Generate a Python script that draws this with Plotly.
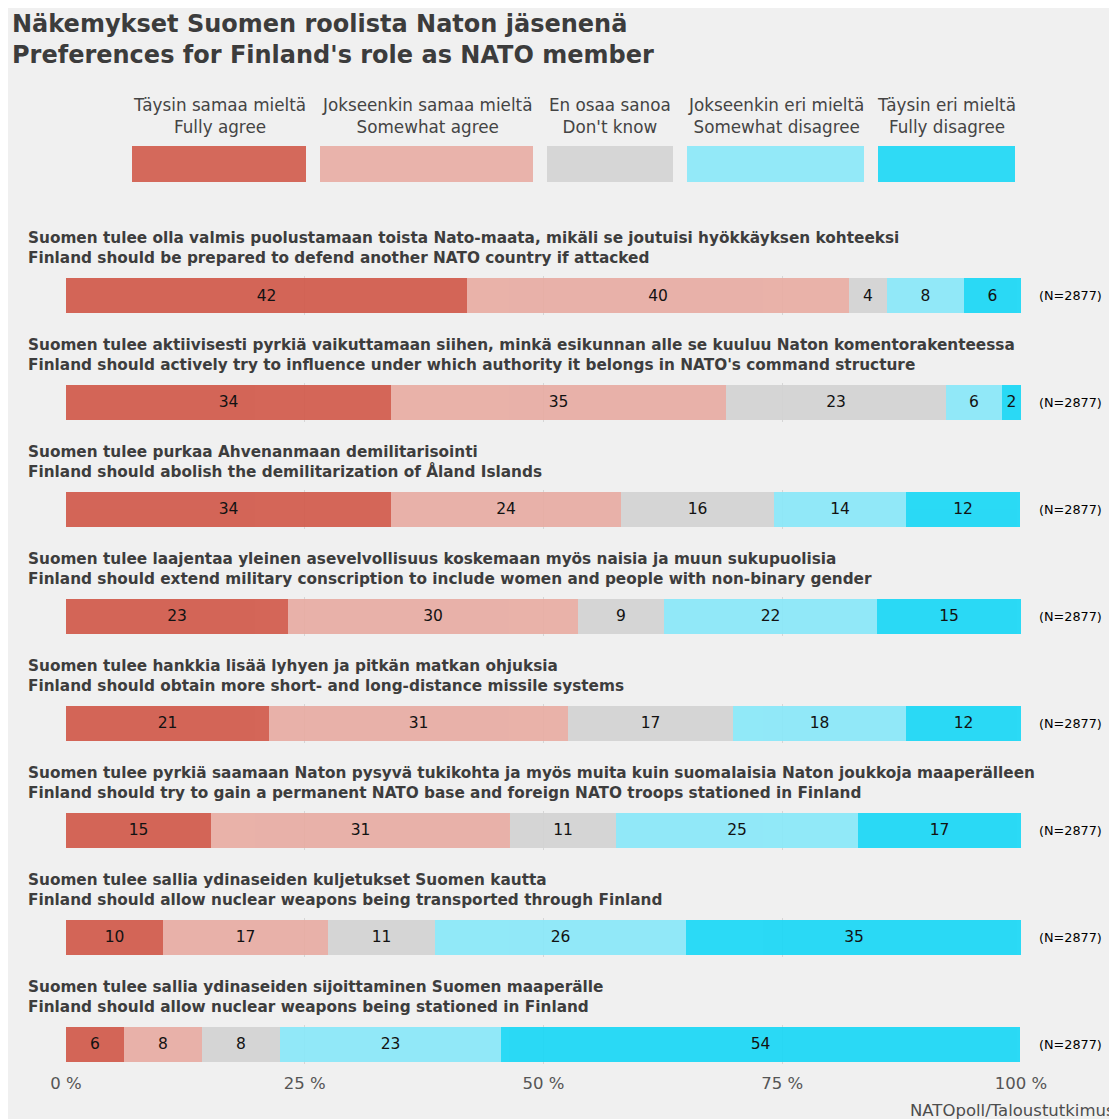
import plotly.graph_objects as go

OFF = 8           # page offset of the figure (body margin)
W, H = 1109, 1111

title_lines = ["Näkemykset Suomen roolista Naton jäsenenä",
               "Preferences for Finland's role as NATO member"]

statements_fi = [
    "Suomen tulee olla valmis puolustamaan toista Nato-maata, mikäli se joutuisi hyökkäyksen kohteeksi",
    "Suomen tulee aktiivisesti pyrkiä vaikuttamaan siihen, minkä esikunnan alle se kuuluu Naton komentorakenteessa",
    "Suomen tulee purkaa Ahvenanmaan demilitarisointi",
    "Suomen tulee laajentaa yleinen asevelvollisuus koskemaan myös naisia ja muun sukupuolisia",
    "Suomen tulee hankkia lisää lyhyen ja pitkän matkan ohjuksia",
    "Suomen tulee pyrkiä saamaan Naton pysyvä tukikohta ja myös muita kuin suomalaisia Naton joukkoja maaperälleen",
    "Suomen tulee sallia ydinaseiden kuljetukset Suomen kautta",
    "Suomen tulee sallia ydinaseiden sijoittaminen Suomen maaperälle",
]
statements_en = [
    "Finland should be prepared to defend another NATO country if attacked",
    "Finland should actively try to influence under which authority it belongs in NATO's command structure",
    "Finland should abolish the demilitarization of Åland Islands",
    "Finland should extend military conscription to include women and people with non-binary gender",
    "Finland should obtain more short- and long-distance missile systems",
    "Finland should try to gain a permanent NATO base and foreign NATO troops stationed in Finland",
    "Finland should allow nuclear weapons being transported through Finland",
    "Finland should allow nuclear weapons being stationed in Finland",
]

responses_fi = ["Täysin samaa mieltä", "Jokseenkin samaa mieltä", "En osaa sanoa",
                "Jokseenkin eri mieltä", "Täysin eri mieltä"]
responses_en = ["Fully agree", "Somewhat agree", "Don't know",
                "Somewhat disagree", "Fully disagree"]

fully_agree       = [42.0, 34.0, 34.0, 23.2, 21.3, 15.2, 10.2, 6.1]
somewhat_agree    = [40.0, 35.1, 24.1, 30.4, 31.3, 31.3, 17.2, 8.1]
dont_know         = [4.0, 23.0, 16.0, 9.0, 17.2, 11.1, 11.2, 8.2]
somewhat_disagree = [8.0, 5.9, 13.9, 22.3, 18.2, 25.3, 26.3, 23.1]
fully_disagree    = [6.0, 2.0, 11.9, 15.1, 12.0, 17.1, 35.2, 54.4]
n_resp = [2877, 2877, 2877, 2877, 2877, 2877, 2877, 2877]

tick_vals = [0, 25, 50, 75, 100]
tick_text = ["0 %", "25 %", "50 %", "75 %", "100 %"]
caption = "NATOpoll/Taloustutkimus"

series = [fully_agree, somewhat_agree, dont_know, somewhat_disagree, fully_disagree]

# styles
key_colors = ["#d4695b", "#e9b3ab", "#d6d6d6", "#93e9f8", "#2fdaf5"]
bar_colors = ["#d15a4b", "#e8aca3", "#d3d3d3", "#89e8f9", "#1ad8f6"]
FONT = "DejaVu Sans, Liberation Sans, Arial, sans-serif"
BG = "#f0f0f0"


def px_y(py):
    return 1 - (py - OFF) / H


def px_x(px):
    return (px - OFF) / W


x_dom = [px_x(66), px_x(1021)]
first_center = 295.5
step = 106.93
half = 19.5

fig = go.Figure()
annotations = []
shapes = [dict(type="rect", xref="paper", yref="paper", x0=0, x1=1,
               y0=0, y1=1, fillcolor=BG, line=dict(width=0), layer="below")]

n = len(statements_fi)
layout_axes = {}
for i in range(n):
    c = first_center + step * i
    xa = "x" if i == 0 else f"x{i+1}"
    ya = "y" if i == 0 else f"y{i+1}"
    xkey = "xaxis" if i == 0 else f"xaxis{i+1}"
    ykey = "yaxis" if i == 0 else f"yaxis{i+1}"
    for j, s in enumerate(series):
        fig.add_trace(go.Bar(
            x=[s[i]], y=[0], orientation="h", xaxis=xa, yaxis=ya,
            marker=dict(color=bar_colors[j], line=dict(width=0)), opacity=0.92,
            width=0.9, texttemplate="%{x:.0f}", textposition="inside",
            insidetextanchor="middle", textangle=0,
            textfont=dict(color="black", size=15.5, family=FONT),
            showlegend=False, name=responses_en[j],
            hovertemplate=responses_en[j] + ": %{x:.1f}%<extra></extra>"))
    last = (i == n - 1)
    layout_axes[xkey] = dict(domain=x_dom, range=[0, 100], anchor=ya, automargin=False,
                             tickvals=tick_vals, ticktext=tick_text,
                             showgrid=True, gridcolor="#d6d6d6", gridwidth=1,
                             zeroline=False, showline=False,
                             showticklabels=last, ticks="outside" if last else "",
                             ticklen=5, tickcolor="rgba(0,0,0,0)",
                             tickfont=dict(size=16.5, color="#555555", family=FONT),
                             fixedrange=True)
    layout_axes[ykey] = dict(domain=[px_y(c + half), px_y(c - half)], range=[-0.5, 0.5],
                             anchor=xa, showgrid=False, zeroline=False, automargin=False,
                             showticklabels=False, fixedrange=True)
    annotations.append(dict(xref="paper", yref="paper", x=px_x(26), y=px_y(c - 47),
                            xanchor="left", yanchor="middle", align="left",
                            text=statements_fi[i] + "<br>" + statements_en[i], showarrow=False,
                            font=dict(size=15.3, color="#3d3d3d", family=FONT, weight="bold")))
    annotations.append(dict(xref="paper", yref="paper", x=px_x(1070), y=px_y(c),
                            xanchor="center", yanchor="middle",
                            text=f"(N={n_resp[i]})", showarrow=False,
                            font=dict(size=12.8, color="black", family=FONT)))

# title
annotations.append(dict(xref="paper", yref="paper", x=px_x(10), y=px_y(39.5),
                        xanchor="left", yanchor="middle", align="left",
                        text="<br>".join(title_lines), showarrow=False,
                        font=dict(size=24, color="#3c3c3c", family=FONT, weight="bold")))

# legend (custom)
key_x = [(132, 306), (320, 533), (547, 673), (687, 864), (878, 1015)]
for j in range(5):
    x0, x1 = key_x[j]
    shapes.append(dict(type="rect", xref="paper", yref="paper",
                       x0=px_x(x0), x1=px_x(x1), y0=px_y(182), y1=px_y(146),
                       fillcolor=key_colors[j], line=dict(width=0), layer="above"))
    annotations.append(dict(xref="paper", yref="paper", x=px_x((x0 + x1) / 2), y=px_y(116),
                            xanchor="center", yanchor="middle", align="center",
                            text=responses_fi[j] + "<br>" + responses_en[j], showarrow=False,
                            font=dict(size=16.8, color="#444444", family=FONT)))

annotations.append(dict(xref="paper", yref="paper", x=px_x(1117), y=px_y(1110),
                        xanchor="right", yanchor="middle", text=caption, showarrow=False,
                        font=dict(size=16.5, color="#4d4d4d", family=FONT)))

fig.update_layout(
    template="none", autosize=False,
    width=W, height=H, margin=dict(l=0, r=0, t=0, b=0, pad=0, autoexpand=False),
    paper_bgcolor="white", plot_bgcolor="rgba(0,0,0,0)",
    barmode="stack", bargap=0, showlegend=False,
    uniformtext=dict(minsize=15, mode="show"),
    font=dict(family=FONT),
    annotations=annotations, shapes=shapes,
    **layout_axes)

fig.write_html("out.html")
